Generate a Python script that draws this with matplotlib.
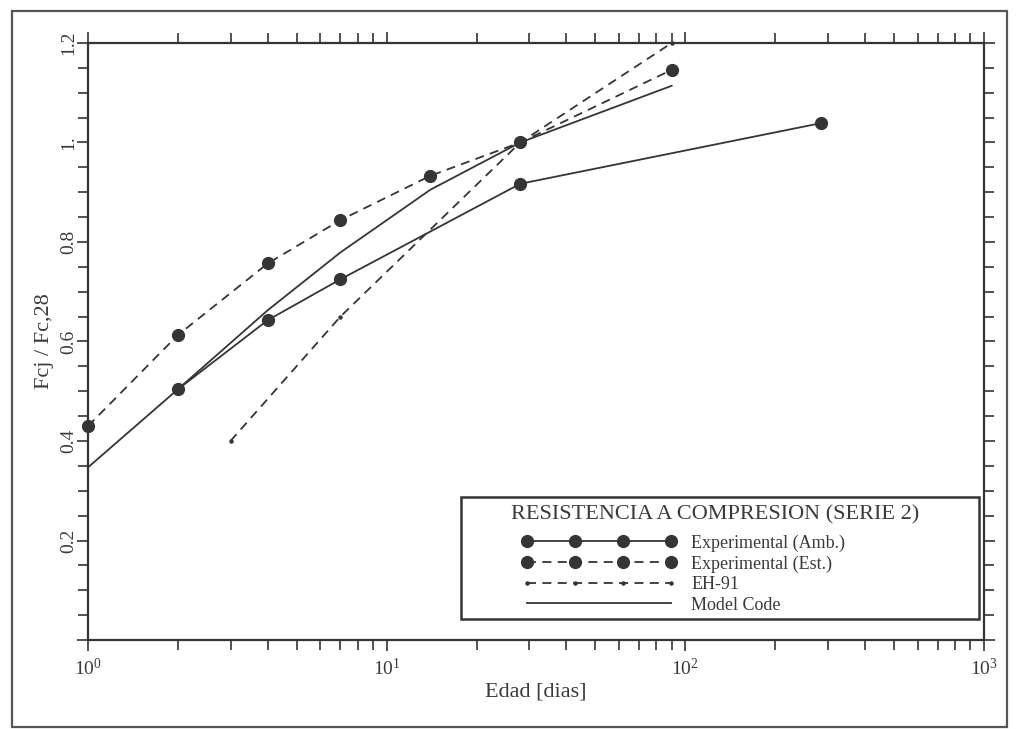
import numpy as np
import matplotlib as mpl
import matplotlib.pyplot as plt
from matplotlib.patches import Rectangle
from matplotlib.lines import Line2D
from matplotlib.ticker import FixedLocator, FixedFormatter, MultipleLocator, NullFormatter

# Experimental (Amb.)
dias_amb = [2, 4, 7, 28, 285]
fc_amb = [0.504, 0.643, 0.725, 0.917, 1.039]

# Experimental (Est.)
dias_est = [1, 2, 4, 7, 14, 28, 90]
fc_est = [0.430, 0.613, 0.757, 0.844, 0.933, 1.0, 1.146]

# EH-91
dias_eh = [3, 7, 28, 90]
fc_eh = [0.40, 0.65, 1.0, 1.20]

# Model Code
dias_mc = [1, 2, 4, 7, 14, 28, 90]
fc_mc = [0.347, 0.504, 0.663, 0.779, 0.905, 1.0, 1.114]

xticks = [1, 10, 100, 1000]
xtick_labels = ['$10^{0}$', '$10^{1}$', '$10^{2}$', '$10^{3}$']
yticks = [0, 0.2, 0.4, 0.6, 0.8, 1.0, 1.2]
ytick_labels = ['', '0.2', '0.4', '0.6', '0.8', '1.', '1.2']

mpl.rcParams['font.family'] = ['Liberation Serif', 'DejaVu Serif']
mpl.rcParams['mathtext.fontset'] = 'custom'
mpl.rcParams['mathtext.rm'] = 'Liberation Serif'
mpl.rcParams['mathtext.it'] = 'Liberation Serif:italic'
mpl.rcParams['mathtext.default'] = 'rm'

ink = '#353535'
txt = '#3a3a3a'
W, H = 1017, 729
fig = plt.figure(figsize=(W / 100, H / 100), dpi=100)
ax = fig.add_axes([88 / W, (H - 640) / H, (984 - 88) / W, (640 - 43) / H])


def ax_x(px):
    return (px - 88) / 896


def ax_y(py):
    return (640 - py) / 597


dash = (0, (5, 3.5))
ax.plot(dias_amb, fc_amb, color=ink, lw=1.3, marker='o', ms=8.5, mfc=ink, mec=ink, clip_on=False)
ax.plot(dias_est, fc_est, color=ink, lw=1.3, ls=dash, marker='o', ms=8.5, mfc=ink, mec=ink, clip_on=False)
ax.plot(dias_eh, fc_eh, color=ink, lw=1.3, ls=dash, marker='o', ms=2.2, mfc=ink, mec=ink, clip_on=False)
ax.plot(dias_mc, fc_mc, color=ink, lw=1.3, clip_on=False)

ax.set_xscale('log')
ax.set_xlim(1, 1000)
ax.set_ylim(0, 1.2)

ax.xaxis.set_major_locator(FixedLocator(xticks))
ax.xaxis.set_major_formatter(FixedFormatter(xtick_labels))
ax.xaxis.set_minor_locator(mpl.ticker.LogLocator(base=10, subs=np.arange(2, 10)))
ax.xaxis.set_minor_formatter(NullFormatter())
ax.yaxis.set_major_locator(FixedLocator(yticks))
ax.yaxis.set_major_formatter(FixedFormatter(ytick_labels))
ax.yaxis.set_minor_locator(MultipleLocator(0.05))

ax.tick_params(which='both', direction='out', top=True, right=True, color=ink, width=1.2)
ax.tick_params(which='major', length=8, labelsize=14, labelcolor=txt, pad=5)
ax.tick_params(which='minor', length=7)
ax.tick_params(axis='y', which='major', labelrotation=90, pad=0)
for lab in ax.get_yticklabels():
    lab.set_verticalalignment('center')
for s in ax.spines.values():
    s.set_linewidth(1.6)
    s.set_color(ink)

ax.set_xlabel('Edad [dias]', fontsize=16, color=txt, labelpad=2)
ax.set_ylabel('Fcj / Fc,28', fontsize=16, color=txt, labelpad=4)

# legend box
bx0, bx1 = ax_x(461), ax_x(979)
by0, by1 = ax_y(619), ax_y(497)
ax.add_patch(Rectangle((bx0, by0), bx1 - bx0, by1 - by0, transform=ax.transAxes,
                       fill=True, facecolor='white', edgecolor=ink, lw=1.8, zorder=4))
ax.text(ax_x(715), ax_y(515), 'RESISTENCIA A COMPRESION (SERIE 2)', transform=ax.transAxes,
        ha='center', va='center', fontsize=16, color=txt, zorder=5)
handles = [
    Line2D([], [], color=ink, lw=1.3, marker='o', ms=8.5, mfc=ink, mec=ink),
    Line2D([], [], color=ink, lw=1.3, ls=dash, marker='o', ms=8.5, mfc=ink, mec=ink),
    Line2D([], [], color=ink, lw=1.3, ls=dash, marker='o', ms=2.2, mfc=ink, mec=ink),
    Line2D([], [], color=ink, lw=1.3),
]
labels = ['Experimental (Amb.)', 'Experimental (Est.)', 'EH-91', 'Model Code']
leg = ax.legend(handles, labels, loc='center left',
                bbox_to_anchor=(ax_x(518), ax_y(574)),
                frameon=False, numpoints=4, handlelength=8.6, handletextpad=0.8,
                labelspacing=0.2, fontsize=13, borderpad=0.2, borderaxespad=0)
leg.set_zorder(5)
for t in leg.get_texts():
    t.set_color(txt)

# outer page frame
fig.add_artist(Rectangle((12 / W, 2 / H), (1007 - 12) / W, (727 - 11) / H,
                         transform=fig.transFigure, fill=False, edgecolor='#555555', lw=1.6))

fig.savefig('out.png', dpi=100)
